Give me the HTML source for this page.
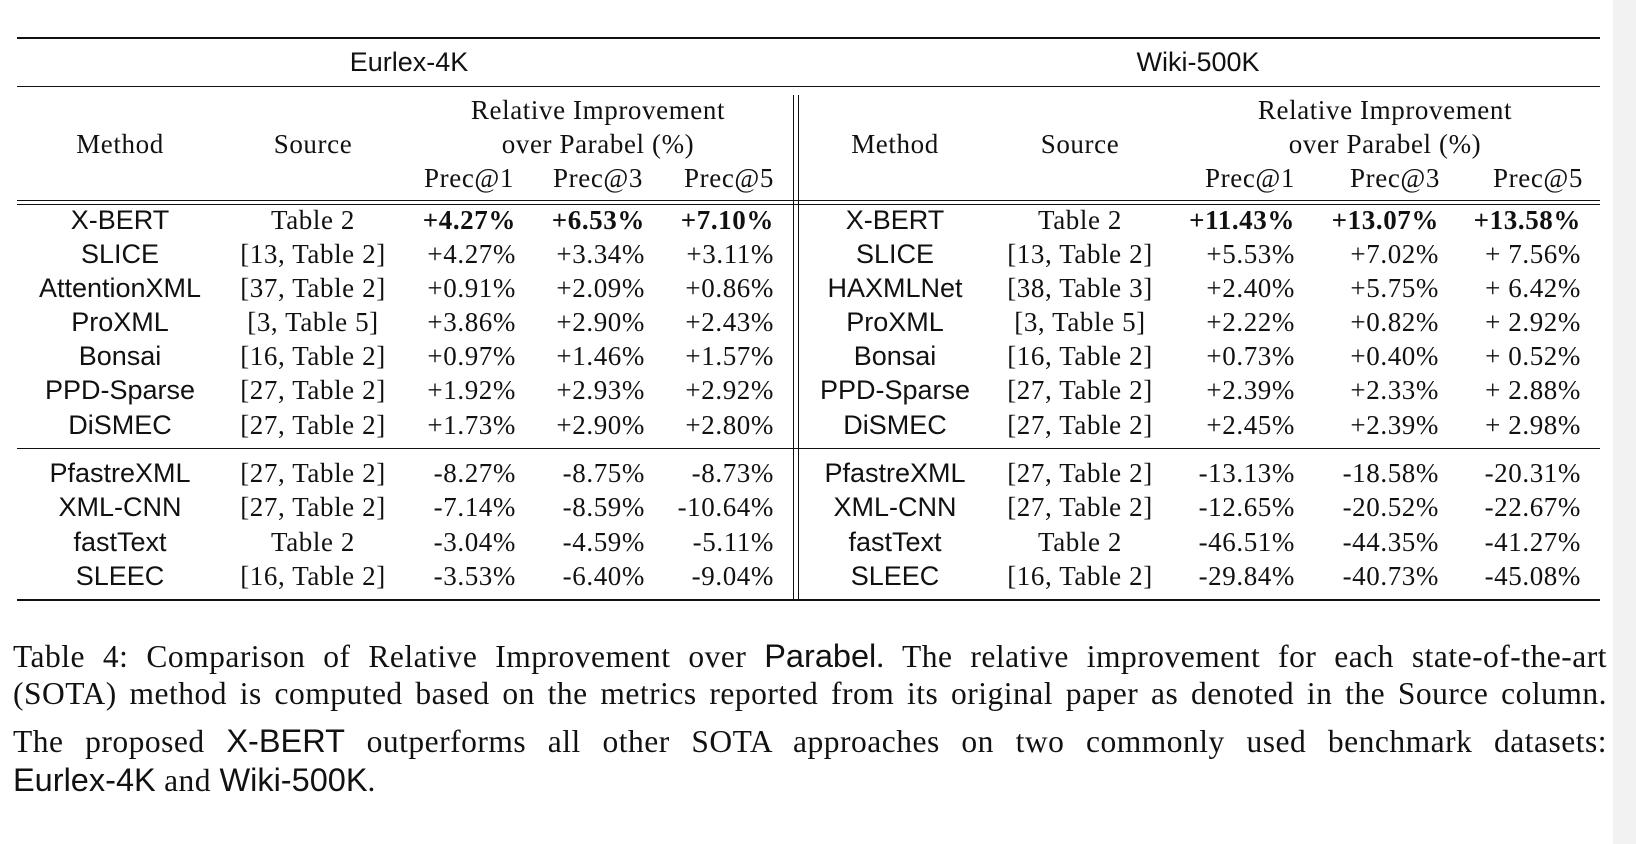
<!DOCTYPE html>
<html><head><meta charset="utf-8"><style>
html,body{margin:0;padding:0;background:#fff;}
#page{position:relative;width:1636px;height:844px;overflow:hidden;background:#fff;}
.band{position:absolute;left:1613px;top:0;width:23px;height:844px;background:#f2f2f2;}
.t{position:absolute;height:30px;line-height:30px;white-space:nowrap;color:#111;}
.serif{font-family:"Liberation Serif",serif;font-size:27px;letter-spacing:0.6px;}
.sans{font-family:"Liberation Sans",sans-serif;font-size:27px;}
.c{transform:translateX(-50%);}
.r{transform:translateX(-100%);}
.b{font-weight:bold;}
.hl{position:absolute;background:#111;}
.cap{position:absolute;left:13px;width:1594px;font-family:"Liberation Serif",serif;font-size:31.5px;letter-spacing:0.5px;line-height:38px;text-align:justify;text-align-last:justify;color:#111;white-space:nowrap;}
.cap .s{font-family:"Liberation Sans",sans-serif;font-size:32.5px;letter-spacing:0;}
</style></head><body>
<div id="page">
<div class="band"></div>
<div class="hl" style="left:17px;top:37px;width:1583px;height:2px"></div>
<div class="hl" style="left:17px;top:86px;width:1583px;height:1.3px"></div>
<div class="hl" style="left:17px;top:199.5px;width:1583px;height:1.2px"></div>
<div class="hl" style="left:17px;top:204px;width:1583px;height:1.2px"></div>
<div class="hl" style="left:17px;top:448px;width:1583px;height:1.3px"></div>
<div class="hl" style="left:17px;top:599px;width:1583px;height:2px"></div>
<div class="hl" style="left:793px;top:95px;width:1.2px;height:505px"></div>
<div class="hl" style="left:798px;top:95px;width:1.2px;height:505px"></div>

<div class="t sans c" style="left:409px;top:47px">Eurlex-4K</div>
<div class="t sans c" style="left:1198px;top:47px">Wiki-500K</div>

<div class="t serif c" style="left:120px;top:129px">Method</div>
<div class="t serif c" style="left:313px;top:129px">Source</div>
<div class="t serif c" style="left:598px;top:95px">Relative Improvement</div>
<div class="t serif c" style="left:598px;top:129px">over Parabel (%)</div>
<div class="t serif c" style="left:469px;top:163px">Prec@1</div>
<div class="t serif c" style="left:598px;top:163px">Prec@3</div>
<div class="t serif c" style="left:729px;top:163px">Prec@5</div>

<div class="t serif c" style="left:895px;top:129px">Method</div>
<div class="t serif c" style="left:1080px;top:129px">Source</div>
<div class="t serif c" style="left:1385px;top:95px">Relative Improvement</div>
<div class="t serif c" style="left:1385px;top:129px">over Parabel (%)</div>
<div class="t serif c" style="left:1250px;top:163px">Prec@1</div>
<div class="t serif c" style="left:1395px;top:163px">Prec@3</div>
<div class="t serif c" style="left:1538px;top:163px">Prec@5</div>

<div id="rows"></div>

<div class="cap" style="top:637px">Table 4: Comparison of Relative Improvement over <span class="s">Parabel</span>. The relative improvement for each state-of-the-art</div>
<div class="cap" style="top:675px">(SOTA) method is computed based on the metrics reported from its original paper as denoted in the Source column.</div>
<div class="cap" style="top:722px">The proposed <span class="s">X-BERT</span> outperforms all other SOTA approaches on two commonly used benchmark datasets:</div>
<div class="cap" style="top:761px;text-align-last:left;width:auto"><span class="s">Eurlex-4K</span> and <span class="s">Wiki-500K</span>.</div>
</div>
<script>
const leftMethods=["X-BERT","SLICE","AttentionXML","ProXML","Bonsai","PPD-Sparse","DiSMEC","PfastreXML","XML-CNN","fastText","SLEEC"];
const leftSources=["Table 2","[13, Table 2]","[37, Table 2]","[3, Table 5]","[16, Table 2]","[27, Table 2]","[27, Table 2]","[27, Table 2]","[27, Table 2]","Table 2","[16, Table 2]"];
const leftP1=["+4.27%","+4.27%","+0.91%","+3.86%","+0.97%","+1.92%","+1.73%","-8.27%","-7.14%","-3.04%","-3.53%"];
const leftP3=["+6.53%","+3.34%","+2.09%","+2.90%","+1.46%","+2.93%","+2.90%","-8.75%","-8.59%","-4.59%","-6.40%"];
const leftP5=["+7.10%","+3.11%","+0.86%","+2.43%","+1.57%","+2.92%","+2.80%","-8.73%","-10.64%","-5.11%","-9.04%"];
const rightMethods=["X-BERT","SLICE","HAXMLNet","ProXML","Bonsai","PPD-Sparse","DiSMEC","PfastreXML","XML-CNN","fastText","SLEEC"];
const rightSources=["Table 2","[13, Table 2]","[38, Table 3]","[3, Table 5]","[16, Table 2]","[27, Table 2]","[27, Table 2]","[27, Table 2]","[27, Table 2]","Table 2","[16, Table 2]"];
const rightP1=["+11.43%","+5.53%","+2.40%","+2.22%","+0.73%","+2.39%","+2.45%","-13.13%","-12.65%","-46.51%","-29.84%"];
const rightP3=["+13.07%","+7.02%","+5.75%","+0.82%","+0.40%","+2.33%","+2.39%","-18.58%","-20.52%","-44.35%","-40.73%"];
const rightP5=["+13.58%","+ 7.56%","+ 6.42%","+ 2.92%","+ 0.52%","+ 2.88%","+ 2.98%","-20.31%","-22.67%","-41.27%","-45.08%"];
const rowY=[220,254,288,322,356,390,424.5,473,507,541.5,576];
const host=document.getElementById('rows');
function add(txt,cls,x,y){
  const d=document.createElement('div');
  d.className='t '+cls;
  d.style.left=x+'px';d.style.top=(y-15)+'px';
  d.textContent=txt;
  host.appendChild(d);return d;
}
for(let i=0;i<leftMethods.length;i++){
  const y=rowY[i];const bold=i===0?' b':'';
  let e;
  e=add(leftMethods[i],'sans c',120,y);
  
  
  e=add(leftSources[i],'serif c',313,y);
  
  
  e=add(leftP1[i],'serif r'+bold,516,y);
  
  
  e=add(leftP3[i],'serif r'+bold,645,y);
  
  
  e=add(leftP5[i],'serif r'+bold,774,y);
  
  
  e=add(rightMethods[i],'sans c',895,y);
  
  
  e=add(rightSources[i],'serif c',1080,y);
  
  
  e=add(rightP1[i],'serif r'+bold,1295,y);
  
  
  e=add(rightP3[i],'serif r'+bold,1439,y);
  
  
  e=add(rightP5[i],'serif r'+bold,1581,y);
  
  
}
</script>
</body></html>
